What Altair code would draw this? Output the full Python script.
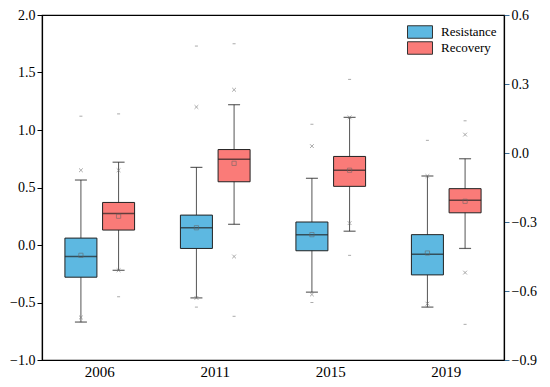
import altair as alt
import pandas as pd

years = ["2006", "2011", "2015", "2019"]
series = ["Resistance", "Recovery"]
colors = ["#5DB8E1", "#FA7B78"]

# Resistance statistics (left axis units)
res_max = [1.12, 1.73, 1.05, 0.91]
res_p99 = [0.65, 1.20, 0.86, 0.60]
res_hi = [0.565, 0.675, 0.58, 0.60]
res_q3 = [0.06, 0.26, 0.20, 0.09]
res_med = [-0.10, 0.15, 0.09, -0.08]
res_mean = [-0.09, 0.15, 0.09, -0.07]
res_q1 = [-0.28, -0.03, -0.05, -0.26]
res_lo = [-0.67, -0.46, -0.41, -0.54]
res_p1 = [-0.63, -0.46, -0.43, -0.51]
res_min = [-0.67, -0.54, -0.50, -0.54]

# Recovery statistics
rec_max = [1.14, 1.75, 1.44, 1.08]
rec_p99 = [0.65, 1.35, 1.11, 0.96]
rec_hi = [0.72, 1.22, 1.11, 0.75]
rec_q3 = [0.37, 0.83, 0.77, 0.49]
rec_med = [0.275, 0.745, 0.65, 0.39]
rec_mean = [0.25, 0.71, 0.65, 0.38]
rec_q1 = [0.13, 0.55, 0.51, 0.28]
rec_lo = [-0.22, 0.18, 0.12, -0.03]
rec_p1 = [-0.22, -0.10, 0.19, -0.24]
rec_min = [-0.45, -0.62, -0.09, -0.69]

left_ticks = [-1.0, -0.5, 0.0, 0.5, 1.0, 1.5, 2.0]
right_ticks = [-0.9, -0.6, -0.3, 0.0, 0.3, 0.6]

rows = []
for i, yr in enumerate(years):
    rows.append(dict(year=yr, series="Resistance", mx=res_max[i], p99=res_p99[i], hi=res_hi[i],
                     q3=res_q3[i], med=res_med[i], mean=res_mean[i], q1=res_q1[i], lo=res_lo[i],
                     p1=res_p1[i], mn=res_min[i]))
    rows.append(dict(year=yr, series="Recovery", mx=rec_max[i], p99=rec_p99[i], hi=rec_hi[i],
                     q3=rec_q3[i], med=rec_med[i], mean=rec_mean[i], q1=rec_q1[i], lo=rec_lo[i],
                     p1=rec_p1[i], mn=rec_min[i]))
df = pd.DataFrame(rows)

FONT = "Liberation Serif"
yscale = alt.Scale(domain=[-1.0, 2.0], nice=False, zero=False)
yaxis = alt.Axis(values=left_ticks, format=".1f", title=None, grid=False, tickSize=5,
                 tickColor="black", domainColor="black", labelColor="black",
                 labelFont=FONT, labelFontSize=14, labelPadding=2)

X = alt.X("year:N", scale=alt.Scale(domain=years, paddingInner=0, paddingOuter=0),
          axis=alt.Axis(title=None, ticks=False, labelAngle=0, labelFont=FONT, labelFontSize=15,
                        labelColor="black", domainColor="black", labelPadding=4))
XO = alt.XOffset("series:N", scale=alt.Scale(domain=series, paddingInner=0.1, paddingOuter=0.583))


def Y(field):
    return alt.Y(f"{field}:Q", scale=yscale, axis=yaxis, title=None)


base = alt.Chart(df)

whisk = base.mark_rule(color="#555555", strokeWidth=1).encode(x=X, xOffset=XO, y=Y("lo"), y2="hi:Q")
cap_lo = base.mark_tick(color="#222222", size=12, thickness=1.2).encode(x=X, xOffset=XO, y=Y("lo"))
cap_hi = base.mark_tick(color="#222222", size=12, thickness=1.2).encode(x=X, xOffset=XO, y=Y("hi"))
box = base.mark_bar(width=32, stroke="#222222", strokeWidth=1).encode(
    x=X, xOffset=XO, y=Y("q1"), y2="q3:Q",
    color=alt.Color("series:N", scale=alt.Scale(domain=series, range=colors),
                    legend=alt.Legend(title=None, orient="none", legendX=371, legendY=10,
                                      symbolType="M-2,-1H2V1H-2Z", symbolSize=156,
                                      symbolStrokeColor="#333333", symbolStrokeWidth=1,
                                      symbolOpacity=1, labelFont=FONT, labelFontSize=13,
                                      labelColor="black", labelOffset=14, rowPadding=-4,
                                      labelLimit=0, padding=0)))
median = base.mark_tick(color="#222222", size=32, thickness=1.5).encode(x=X, xOffset=XO, y=Y("med"))
mean = base.mark_point(shape="square", size=18, filled=False, color="#666666", strokeWidth=0.8).encode(
    x=X, xOffset=XO, y=Y("mean"))
xshape = "M-1,-1L1,1M-1,1L1,-1"
p99 = base.mark_point(shape=xshape, size=14, filled=False, color="#777777", strokeWidth=0.9).encode(
    x=X, xOffset=XO, y=Y("p99"))
p1 = base.mark_point(shape=xshape, size=14, filled=False, color="#777777", strokeWidth=0.9).encode(
    x=X, xOffset=XO, y=Y("p1"))
dshape = "M-1,0L1,0"
mx = base.mark_point(shape=dshape, size=9, filled=False, color="#888888", strokeWidth=1).encode(
    x=X, xOffset=XO, y=Y("mx"))
mn = base.mark_point(shape=dshape, size=9, filled=False, color="#888888", strokeWidth=1).encode(
    x=X, xOffset=XO, y=Y("mn"))

left = alt.layer(whisk, cap_lo, cap_hi, box, median, mean, p99, p1, mx, mn)

right = alt.Chart(pd.DataFrame({"v": right_ticks})).mark_point(opacity=0).encode(
    y=alt.Y("v:Q", scale=alt.Scale(domain=[-0.9, 0.6], nice=False, zero=False),
            axis=alt.Axis(values=right_ticks, format=".1f", title=None, grid=False, orient="right",
                          tickSize=5, tickColor="#3a6f9a", domainColor="black", labelColor="black",
                          labelFont=FONT, labelFontSize=14, labelPadding=2)))

chart = alt.layer(left, right).resolve_scale(y="independent").properties(
    width=462, height=345,
    autosize=alt.AutoSizeParams(type="none"),
    padding={"left": 34, "top": 7, "right": 38, "bottom": 19},
).configure(font=FONT).configure_view(stroke="black", strokeWidth=1.2).configure_axis(
    domainWidth=1.2, tickWidth=1, labelFont=FONT).configure_legend(rowPadding=-4)

chart.save("out.html", embed_options={"renderer": "svg", "actions": False})
